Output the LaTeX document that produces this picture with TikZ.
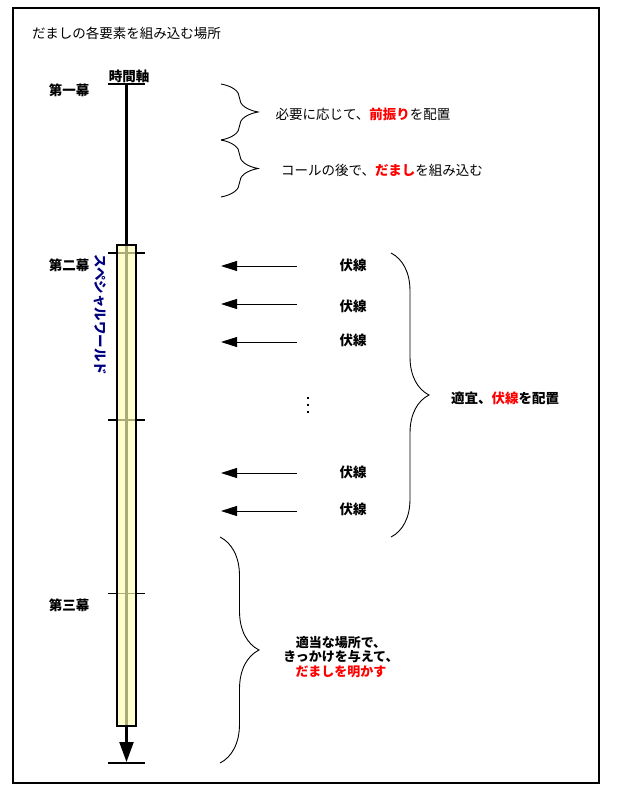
\documentclass[tikz,border=0pt]{standalone}
\usepackage{fontspec}
\setmainfont{Noto Sans CJK JP}
\usetikzlibrary{arrows.meta,decorations.pathreplacing}
\definecolor{myred}{RGB}{255,0,0}
\definecolor{navy}{RGB}{0,0,128}
\definecolor{barfill}{RGB}{255,255,180}
\begin{document}
\begin{tikzpicture}[x=1pt,y=-1pt,
  txt/.style={font=\fontsize{13.5}{16}\selectfont, inner sep=0pt},
  btxt/.style={font=\fontsize{13.5}{16}\selectfont\bfseries, inner sep=0pt},
  fs/.style={-{Triangle[length=16pt,width=10pt]}, line width=0.9pt},
  brc/.style={decorate, decoration={brace, amplitude=#1}, line width=0.9pt},
  tick/.style={line width=#1},
]
\useasboundingbox (0,0) rectangle (621,791);
% frame
\draw[line width=2.2pt] (13,8) rectangle (599,783);
% title
\node[txt, anchor=west] (title) at (32,33) {だましの各要素を組み込む場所};
% acts
\node[btxt] (act1) at (69,90) {第一幕};
\node[btxt] (act2) at (69,265) {第二幕};
\node[btxt] (act3) at (69,605) {第三幕};
% time axis
\node[btxt] (axis) at (129,76) {時間軸};
\coordinate (ul1) at (108,84);
\coordinate (ul2) at (145,84);
\draw[line width=2pt] (ul1) -- (ul2);
\coordinate (tend) at (126.5,762);
\draw[line width=2.2pt, -{Triangle[length=20pt,width=14pt]}] (126.5,84) -- (tend);
\draw[line width=2.2pt] (108,763) -- (145,763);
% ticks
\draw[tick=2pt] (108,253) -- (145,253);
\draw[tick=2pt] (108,420) -- (145,420);
\draw[tick=1pt] (108,593) -- (145,593);
% bar
\fill[barfill, fill opacity=0.67] (117,245) rectangle (136,726);
\draw[line width=2pt] (117,245) rectangle (136,726);
\node[btxt, rotate=-90, text=navy] (sw) at (100,315) {スペシャルワールド};
% braces act 1
\coordinate (b1t) at (221,84);
\coordinate (b1m) at (221,140);
\coordinate (b1b) at (221,197);
\draw[brc=37pt] (b1t) -- (b1m);
\draw[brc=37pt] (b1m) -- (b1b);
\node[txt] (n1) at (363,114) {必要に応じて、{\bfseries\color{myred}前振り}を配置};
\node[txt] (n2) at (382,170) {コールの後で、{\bfseries\color{myred}だまし}を組み込む};
% foreshadowing arrows
\foreach \i/\yl/\ya in {1/265/266, 2/306/304, 3/340/342, 4/472/473, 5/509/511}{
  \node[btxt] (f\i) at (353,\yl) {伏線};
  \coordinate (a\i) at (221,\ya);
  \coordinate (s\i) at (297,\ya);
  \draw[fs] (s\i) -- (a\i);
}
% dots
\foreach \yy in {398,405,412}{
  \fill (307,\yy-1.2) rectangle (309.2,\yy+1.2);
}
% big brace
\coordinate (b2t) at (391,253);
\coordinate (b2b) at (391,537);
\draw[brc=38pt] (b2t) -- (b2b);
\node[btxt] (n3) at (505,398) {適宜、{\color{myred}伏線}を配置};
% act 3 brace
\coordinate (b3t) at (220,537);
\coordinate (b3b) at (220,763);
\draw[brc=39pt] (b3t) -- (b3b);
\node[btxt, align=center, font=\fontsize{13}{14.5}\selectfont\bfseries] (n4) at (341,657) {適当な場所で、\\きっかけを与えて、\\{\color{myred}だましを明かす}};
\end{tikzpicture}
\end{document}
